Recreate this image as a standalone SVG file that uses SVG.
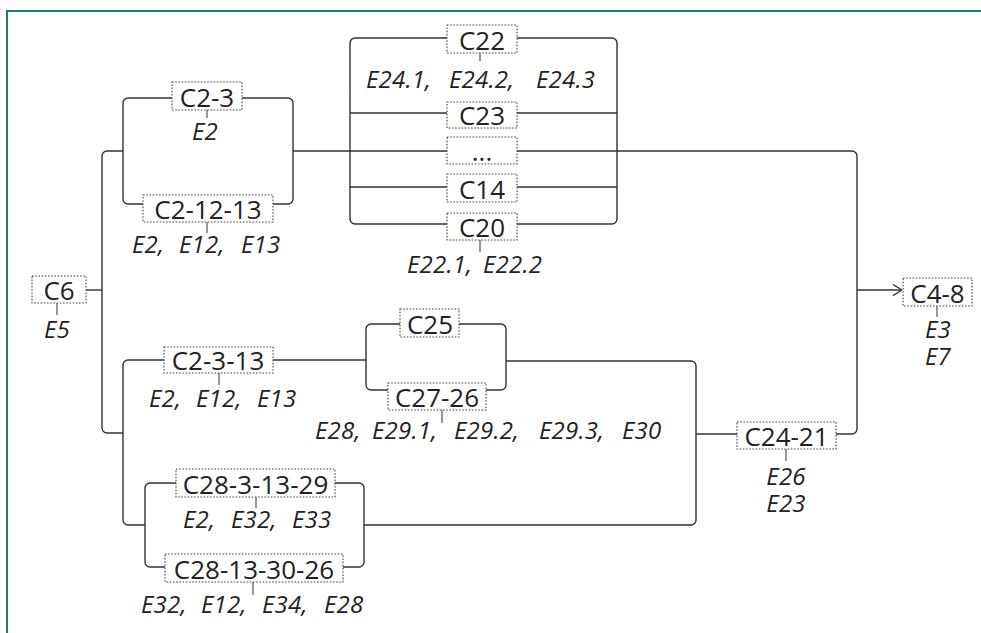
<svg xmlns="http://www.w3.org/2000/svg" width="981" height="633" viewBox="0 0 981 633">
<style>
.frame{fill:none;stroke:#1c7a6f;stroke-width:2}
.ln{fill:none;stroke:#333;stroke-width:1.4}
.tk{fill:none;stroke:#444;stroke-width:1.1}
.bx{fill:#fff;stroke:#444;stroke-width:1.1;stroke-dasharray:1.6 1.6}
.c{font-family:"Open Sans","Noto Sans","DejaVu Sans",sans-serif;font-size:26px;fill:#222;text-anchor:middle}
.e{font-family:"Open Sans","Noto Sans","DejaVu Sans",sans-serif;font-size:24px;letter-spacing:0.2px;font-style:italic;fill:#222}
.m{text-anchor:middle}
</style>
<defs>
<marker id="arr" viewBox="0 0 10 12" refX="10" refY="6" markerWidth="10" markerHeight="12" markerUnits="userSpaceOnUse" orient="auto">
<path d="M1,0.5 L10,6 L1,11.5" fill="none" stroke="#333" stroke-width="1.3"/>
</marker>
</defs>
<rect width="981" height="633" fill="#fff"/>
<path class="frame" d="M7,633 V11 H981"/>

<g id="connectors">
<path class="ln" d="M86,290 H102"/>
<path class="ln" d="M123,151 H107 a5,5 0 0 0 -5,5 V428 a5,5 0 0 0 5,5 H123"/>
<path class="ln" d="M172,98 H128 a5,5 0 0 0 -5,5 V199 a5,5 0 0 0 5,5 H143"/>
<path class="ln" d="M242,98 H288 a5,5 0 0 1 5,5 V199 a5,5 0 0 1 -5,5 H273"/>
<path class="ln" d="M293,151 H852 a5,5 0 0 1 5,5 V429 a5,5 0 0 1 -5,5 H836"/>
<path class="ln" d="M447,38 H355 a5,5 0 0 0 -5,5 V219 a5,5 0 0 0 5,5 H447"/>
<path class="ln" d="M517,38 H612 a5,5 0 0 1 5,5 V219 a5,5 0 0 1 -5,5 H517"/>
<path class="ln" d="M350,113 H617 M350,187 H617"/>
<path class="ln" d="M164,360 H128 a5,5 0 0 0 -5,5 V520 a5,5 0 0 0 5,5 H145"/>
<path class="ln" d="M273,360 H366"/>
<path class="ln" d="M400,324 H371 a5,5 0 0 0 -5,5 V385 a5,5 0 0 0 5,5 H388"/>
<path class="ln" d="M459,324 H501 a5,5 0 0 1 5,5 V385 a5,5 0 0 1 -5,5 H486"/>
<path class="ln" d="M506,361 H691 a5,5 0 0 1 5,5 V520 a5,5 0 0 1 -5,5 H364"/>
<path class="ln" d="M176,483 H150 a5,5 0 0 0 -5,5 V562 a5,5 0 0 0 5,5 H165"/>
<path class="ln" d="M335,483 H359 a5,5 0 0 1 5,5 V562 a5,5 0 0 1 -5,5 H343"/>
<path class="ln" d="M696,434 H737"/>
<path class="ln" d="M857,290 H902" marker-end="url(#arr)"/>
</g>

<g id="C6">
<rect class="bx" x="32" y="276" width="54" height="27"/>
<text class="c" x="59" y="300">C6</text>
<path class="tk" d="M57,303 V315"/>
<text class="e m" x="57" y="338">E5</text>
</g>

<g id="C2-3">
<rect class="bx" x="172" y="82" width="70" height="28"/>
<text class="c" x="207" y="107">C2-3</text>
<path class="tk" d="M207,110 V118"/>
<text class="e m" x="205" y="140">E2</text>
</g>

<g id="C2-12-13">
<rect class="bx" x="143" y="195" width="130" height="27"/>
<text class="c" x="208" y="219">C2-12-13</text>
<path class="tk" d="M207,222 V233"/>
<text class="e" y="253"><tspan x="132">E2,</tspan><tspan x="179">E12,</tspan><tspan x="241">E13</tspan></text>
</g>

<g id="C22">
<rect class="bx" x="447" y="25" width="70" height="28"/>
<text class="c" x="482" y="50">C22</text>
<path class="tk" d="M480,53 V61"/>
<text class="e" y="88"><tspan x="366">E24.1,</tspan><tspan x="449">E24.2,</tspan><tspan x="536">E24.3</tspan></text>
</g>

<g id="C23">
<rect class="bx" x="447" y="102" width="70" height="26"/>
<text class="c" x="482" y="125">C23</text>
</g>

<g id="dots">
<rect class="bx" x="447" y="137" width="70" height="27"/>
<text class="c" x="482" y="161">...</text>
</g>

<g id="C14">
<rect class="bx" x="447" y="174" width="70" height="28"/>
<text class="c" x="482" y="199">C14</text>
</g>

<g id="C20">
<rect class="bx" x="447" y="213" width="70" height="27"/>
<text class="c" x="482" y="237">C20</text>
<path class="tk" d="M480,240 V252"/>
<text class="e" y="273"><tspan x="407">E22.1,</tspan><tspan x="483">E22.2</tspan></text>
</g>

<g id="C2-3-13">
<rect class="bx" x="164" y="347" width="109" height="26"/>
<text class="c" x="218" y="370">C2-3-13</text>
<path class="tk" d="M219,373 V385"/>
<text class="e" y="407"><tspan x="149">E2,</tspan><tspan x="196">E12,</tspan><tspan x="257">E13</tspan></text>
</g>

<g id="C25">
<rect class="bx" x="400" y="309" width="59" height="28"/>
<text class="c" x="430" y="334">C25</text>
</g>

<g id="C27-26">
<rect class="bx" x="388" y="383" width="98" height="27"/>
<text class="c" x="437" y="407">C27-26</text>
<path class="tk" d="M442,410 V423"/>
<text class="e" y="439"><tspan x="315">E28,</tspan><tspan x="372">E29.1,</tspan><tspan x="454">E29.2,</tspan><tspan x="539">E29.3,</tspan><tspan x="622">E30</tspan></text>
</g>

<g id="C28-3-13-29">
<rect class="bx" x="176" y="469" width="159" height="28"/>
<text class="c" x="255.5" y="494">C28-3-13-29</text>
<path class="tk" d="M256,497 V508"/>
<text class="e" y="528"><tspan x="183">E2,</tspan><tspan x="231">E32,</tspan><tspan x="292">E33</tspan></text>
</g>

<g id="C28-13-30-26">
<rect class="bx" x="165" y="554" width="178" height="28"/>
<text class="c" x="254" y="579">C28-13-30-26</text>
<path class="tk" d="M253,582 V595"/>
<text class="e" y="613"><tspan x="141">E32,</tspan><tspan x="201">E12,</tspan><tspan x="262">E34,</tspan><tspan x="324">E28</tspan></text>
</g>

<g id="C24-21">
<rect class="bx" x="737" y="422" width="99" height="27"/>
<text class="c" x="786.5" y="446">C24-21</text>
<path class="tk" d="M786,449 V461"/>
<text class="e m"><tspan x="786" y="485">E26</tspan><tspan x="786" y="512">E23</tspan></text>
</g>

<g id="C4-8">
<rect class="bx" x="903" y="278" width="69" height="28"/>
<text class="c" x="937.5" y="303">C4-8</text>
<path class="tk" d="M937,306 V317"/>
<text class="e m"><tspan x="938" y="338">E3</tspan><tspan x="938" y="365">E7</tspan></text>
</g>
</svg>
